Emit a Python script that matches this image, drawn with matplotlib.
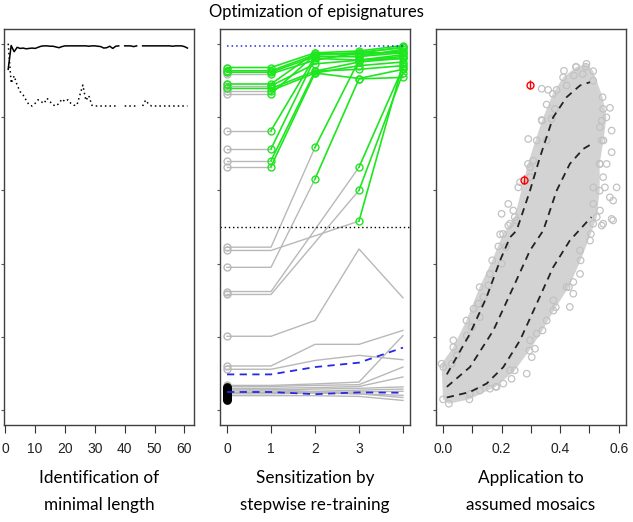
import numpy as np
import matplotlib
matplotlib.use('Agg')
import matplotlib.pyplot as plt

# ---- panel 1: identification of minimal length ----
len_x = np.arange(1, 62)
len_solid = [0.930, 0.995, 0.978, 0.990, 0.987, 0.988, 0.986, 0.987, 0.988, 0.987,
             0.990, 0.993, 0.994, 0.994, 0.993, 0.993, 0.991, 0.989, 0.992, 0.994,
             0.994, 0.994, 0.994, 0.994, 0.994, 0.994, 0.994, 0.993, 0.994, 0.994,
             0.993, 0.992, 0.988, 0.989, 0.993, 0.987, 0.993, 0.994, np.nan, 0.994,
             0.994, 0.994, 0.992, 0.994, np.nan, 0.994, 0.994, 0.994, 0.994, 0.994,
             0.994, 0.994, 0.994, 0.994, 0.994, 0.993, 0.994, 0.994, 0.994, 0.992,
             0.988]
len_dotted = [1.000, 0.892, 0.912, 0.887, 0.869, 0.860, 0.846, 0.833, 0.830, 0.837,
              0.847, 0.842, 0.837, 0.851, 0.842, 0.833, 0.830, 0.837, 0.849, 0.842,
              0.847, 0.837, 0.832, 0.832, 0.860, 0.887, 0.845, 0.858, 0.832, 0.830,
              0.830, 0.830, 0.830, 0.830, 0.830, 0.830, 0.830, 0.830, np.nan, 0.830,
              0.830, 0.830, 0.830, 0.830, np.nan, 0.830, 0.846, 0.835, 0.830, 0.830,
              0.830, 0.830, 0.830, 0.830, 0.830, 0.830, 0.830, 0.830, 0.830, 0.830,
              0.830]

# ---- panel 2: stepwise re-training ----
steps = [0, 1, 2, 3, 4]
# (values at each step, step from which the signature is green; None = never)
sig_lines = [
    ([0.935, 0.935, 0.975, 0.980, 0.995], 0),
    ([0.926, 0.926, 0.970, 0.975, 0.990], 0),
    ([0.922, 0.922, 0.965, 0.965, 0.985], 0),
    ([0.918, 0.918, 0.955, 0.975, 0.975], 1),
    ([0.890, 0.890, 0.975, 0.970, 0.980], 0),
    ([0.885, 0.885, 0.945, 0.955, 0.970], 1),
    ([0.878, 0.878, 0.925, 0.950, 0.960], 0),
    ([0.872, 0.872, 0.920, 0.940, 0.950], 1),
    ([0.863, 0.863, 0.970, 0.975, 0.990], 1),
    ([0.763, 0.763, 0.965, 0.965, 0.975], 1),
    ([0.713, 0.713, 0.960, 0.955, 0.965], 1),
    ([0.681, 0.681, 0.925, 0.930, 0.940], 1),
    ([0.665, 0.665, 0.920, 0.905, 0.930], 1),
    ([0.445, 0.445, 0.717, 0.955, 0.960], 2),
    ([0.390, 0.390, 0.631, 0.904, 0.908], 2),
    ([0.436, 0.436, 0.476, 0.516, 0.945], 3),
    ([0.324, 0.324, 0.493, 0.663, 0.935], 3),
    ([0.316, 0.316, 0.458, 0.600, 0.920], 3),
    ([0.202, 0.202, 0.245, 0.440, 0.307], None),
    ([0.121, 0.121, 0.180, 0.180, 0.218], None),
    ([0.112, 0.112, 0.136, 0.150, 0.138], None),
    ([0.068, 0.068, 0.072, 0.077, 0.204], None),
    ([0.065, 0.065, 0.068, 0.070, 0.118], None),
    ([0.060, 0.060, 0.062, 0.065, 0.091], None),
    ([0.055, 0.055, 0.058, 0.060, 0.064], None),
    ([0.050, 0.050, 0.052, 0.055, 0.058], None),
    ([0.058, 0.058, 0.050, 0.050, 0.052], None),
    ([0.048, 0.048, 0.050, 0.045, 0.035], None),
    ([0.045, 0.045, 0.047, 0.045, 0.041], None),
    ([0.040, 0.040, 0.040, 0.038, 0.027], None),
]
black_start = [0.028, 0.031, 0.034, 0.037, 0.040, 0.043, 0.046, 0.049, 0.052,
               0.055, 0.058, 0.061, 0.063]
blue_upper = [0.098, 0.098, 0.118, 0.130, 0.171]
blue_lower = [0.050, 0.050, 0.044, 0.049, 0.048]
target_level = 0.995
cutoff = 0.5

# ---- panel 3: application to assumed mosaics ----
curve_hi_x = [0.013, 0.092, 0.149, 0.195, 0.229, 0.251, 0.263, 0.297, 0.331, 0.376, 0.422, 0.468, 0.502]
curve_hi_y = [0.098, 0.209, 0.309, 0.409, 0.472, 0.490, 0.518, 0.599, 0.690, 0.799, 0.854, 0.886, 0.895]
curve_mid_x = [0.013, 0.092, 0.172, 0.240, 0.297, 0.342, 0.354, 0.388, 0.433, 0.479, 0.511]
curve_mid_y = [0.064, 0.118, 0.218, 0.336, 0.436, 0.490, 0.518, 0.599, 0.672, 0.713, 0.728]
curve_lo_x = [0.013, 0.092, 0.149, 0.206, 0.263, 0.320, 0.376, 0.433, 0.496, 0.507]
curve_lo_y = [0.035, 0.050, 0.073, 0.118, 0.191, 0.291, 0.390, 0.463, 0.518, 0.527]

cloud_x = [0.000, -0.005, 0.035, 0.080, 0.125, 0.168, 0.205, 0.245, 0.290, 0.338, 0.375,
           0.410, 0.455, 0.490, 0.513, 0.545, 0.558, 0.548, 0.535, 0.535, 0.525, 0.505,
           0.470, 0.430, 0.385, 0.340, 0.295, 0.245, 0.180, 0.090, 0.020]
cloud_y = [0.030, 0.127, 0.172, 0.245, 0.336, 0.409, 0.481, 0.527, 0.672, 0.790, 0.863,
           0.908, 0.936, 0.945, 0.925, 0.854, 0.799, 0.736, 0.672, 0.599, 0.527, 0.481,
           0.409, 0.336, 0.281, 0.218, 0.163, 0.109, 0.064, 0.030, 0.018]

spread_x = [0.413, 0.454, 0.488, 0.447, 0.477, 0.513, 0.337, 0.359, 0.388, 0.422, 0.354,
            0.382, 0.337, 0.371, 0.547, 0.570, 0.542, 0.576, 0.536, 0.291, 0.320, 0.354,
            0.542, 0.576, 0.536, 0.559, 0.547, 0.308, 0.297, 0.263, 0.257, 0.297, 0.513,
            0.553, 0.593, 0.570, 0.581, 0.223, 0.240, 0.200, 0.223, 0.251, 0.513, 0.536,
            0.576, 0.547,
            0.195, 0.189, 0.215, 0.229, 0.200, 0.160, 0.155, 0.138, 0.121, 0.104, 0.126,
            0.098, 0.081, 0.035, 0.047, 0.030, 0.001, 0.513, 0.542, 0.581, 0.502, 0.468,
            0.468, 0.445, 0.422, 0.445, 0.377, 0.433, 0.377, 0.354, 0.320, 0.297, 0.314,
            0.286, 0.303, 0.229, 0.234, 0.206, 0.183, 0.160, 0.126, 0.092]
spread_y = [0.926, 0.937, 0.937, 0.913, 0.917, 0.899, 0.877, 0.874, 0.874, 0.886, 0.834,
            0.822, 0.792, 0.795, 0.822, 0.825, 0.790, 0.763, 0.772, 0.740, 0.736, 0.736,
            0.736, 0.704, 0.672, 0.672, 0.636, 0.681, 0.663, 0.622, 0.608, 0.636, 0.608,
            0.608, 0.608, 0.581, 0.572, 0.563, 0.545, 0.536, 0.504, 0.518, 0.563, 0.545,
            0.522, 0.509,
            0.480, 0.447, 0.445, 0.509, 0.400, 0.372, 0.341, 0.309, 0.291, 0.277, 0.254,
            0.227, 0.204, 0.191, 0.150, 0.127, 0.118, 0.509, 0.504, 0.518, 0.463, 0.436,
            0.372, 0.350, 0.336, 0.318, 0.300, 0.282, 0.272, 0.245, 0.209, 0.191, 0.168,
            0.100, 0.145, 0.109, 0.086, 0.073, 0.064, 0.059, 0.054, 0.045]

mosaic_x = [0.297, 0.278]
mosaic_y = [0.888, 0.629]
mosaic_err = [0.012, 0.012]

panel_labels = ['Identification of\nminimal length',
                'Sensitization by\nstepwise re-training',
                'Application to\nassumed mosaics']

GRAY = '#b8b8b8'
GREEN = '#1ee61e'
BLUE = '#2828e6'
CLOUD = '#d3d3d3'
CLOUD_EDGE = '#c2c2c2'

fig = plt.figure(figsize=(6.33, 5.22), dpi=100)
lefts = [4 / 633, 220 / 633, 436 / 633]
bottom = (522 - 425) / 522
height = 396 / 522
width = 190 / 633
axes = [fig.add_axes([l, bottom, width, height]) for l in lefts]

for ax in axes:
    ax.set_ylim(-0.04, 1.04)
    ax.set_yticks(np.arange(0, 1.01, 0.2))
    ax.set_yticklabels([])
    ax.tick_params(axis='x', direction='out', length=5.5, width=0.8, pad=7,
                   color='#333333', labelsize=10)
    ax.tick_params(axis='y', direction='out', length=2.5, width=0.8, color='#555555')
    for sp in ax.spines.values():
        sp.set_linewidth(1.0)
        sp.set_color('#404040')

# panel 1
ax = axes[0]
ax.plot(len_x, len_solid, color='black', lw=1.1)
ax.plot(len_x, len_dotted, color='black', lw=1.1, ls=(0, (1, 2)))
ax.set_xlim(-0.4, 63.2)
ax.set_xticks(np.arange(0, 61, 10))

# panel 2
ax = axes[1]
for vals, g in sig_lines:
    if g is None:
        ax.plot(steps, vals, color=GRAY, lw=1.0)
    elif g > 0:
        ax.plot(steps[:g + 1], vals[:g + 1], color=GRAY, lw=1.0)
for vals, g in sig_lines:
    ax.plot(steps[0], vals[0], 'o', mfc='none', mec=GRAY, ms=5, mew=1.0)
for vals, g in sig_lines:
    if g is not None:
        ax.plot(steps[g:], vals[g:], '-o', color=GREEN, mfc='none', mec=GREEN,
                ms=5, mew=1.0, lw=1.2)
ax.plot([steps[0]] * len(black_start), black_start, 'o', mfc='none', mec='black',
        ms=5, mew=1.3)
ax.plot(steps, blue_upper, color=BLUE, lw=1.3, ls=(0, (4, 3)))
ax.plot(steps, blue_lower, color=BLUE, lw=1.3, ls=(0, (4, 3)))
ax.plot([steps[0], steps[-1]], [target_level, target_level], color=BLUE, lw=1.1,
        ls=(0, (1, 2)))
ax.axhline(cutoff, color='black', lw=1.0, ls=(0, (1, 2)))
ax.set_xlim(-0.16, 4.16)
ax.set_xticks(steps)
ax.set_xticklabels(['0', '1', '2', '3', ''])

# panel 3
ax = axes[2]
ax.fill(cloud_x, cloud_y, color=CLOUD, lw=0)
ax.scatter(cloud_x, cloud_y, s=22, facecolors='none', edgecolors=CLOUD_EDGE, linewidths=0.9)
ax.scatter(spread_x, spread_y, s=22, facecolors='none', edgecolors=CLOUD_EDGE, linewidths=0.9)
for cx, cy in [(curve_hi_x, curve_hi_y), (curve_mid_x, curve_mid_y), (curve_lo_x, curve_lo_y)]:
    ax.plot(cx, cy, color='#222222', lw=1.3, ls=(0, (4, 3)))
ax.errorbar(mosaic_x, mosaic_y, yerr=mosaic_err, fmt='o', mfc='none', mec='red',
            ecolor='red', ms=5, mew=1.0, elinewidth=1.0, capsize=0)
ax.set_xlim(-0.024, 0.625)
ax.set_xticks(np.arange(0, 0.61, 0.1))
ax.set_xticklabels(['0.0', '', '0.2', '', '0.4', '', '0.6'])

for ax in axes:
    for lab in ax.get_xticklabels():
        lab.set_family('Liberation Sans')
        lab.set_color('#222222')

fig.text(0.5, 1 - 12 / 522, 'Optimization of episignatures', ha='center', va='center',
         family='Lato', fontsize=12)
for ax, txt in zip(axes, panel_labels):
    pos = ax.get_position()
    cx = pos.x0 + pos.width / 2
    l1, l2 = txt.split('\n')
    fig.text(cx, 1 - 478 / 522, l1, ha='center', va='center', family='Lato', fontsize=12.3)
    fig.text(cx, 1 - 505 / 522, l2, ha='center', va='center', family='Lato', fontsize=12.3)

fig.savefig('out.png', dpi=100)
